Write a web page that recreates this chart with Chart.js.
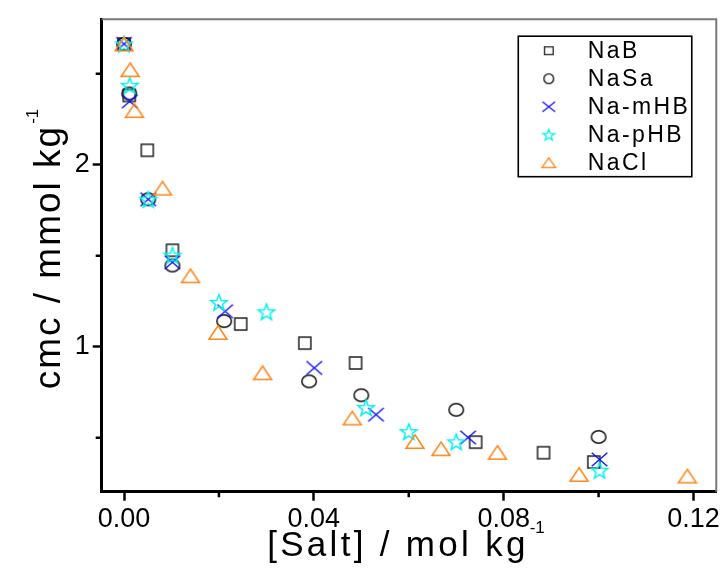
<!DOCTYPE html>
<html>
<head>
<meta charset="utf-8">
<script src="https://cdn.jsdelivr.net/npm/chart.js@4.4.1/dist/chart.umd.min.js"></script>
<style>
  html, body { margin: 0; padding: 0; background: #ffffff; }
  #wrap { width: 723px; height: 572px; }
</style>
</head>
<body>
<div id="wrap"><canvas id="cmcChart" width="723" height="572"></canvas></div>
<script>
// cmc of the surfactant versus added salt concentration
const seriesNames = ['NaB', 'NaSa', 'Na-mHB', 'Na-pHB', 'NaCl'];

const saltNaB   = [0, 0.0011, 0.0049, 0.0102, 0.0246, 0.0381, 0.0488, 0.0741, 0.0884, 0.0990];
const cmcNaB    = [2.663, 2.38, 2.079, 1.53, 1.125, 1.020, 0.911, 0.476, 0.418, 0.367];

const saltNaSa  = [0, 0.0011, 0.0051, 0.0102, 0.0211, 0.0390, 0.0500, 0.0700, 0.1000];
const cmcNaSa   = [2.663, 2.391, 1.810, 1.446, 1.141, 0.810, 0.734, 0.654, 0.505];

const saltMHB   = [0, 0.0012, 0.0051, 0.0102, 0.0213, 0.0401, 0.0531, 0.0725, 0.1002];
const cmcMHB    = [2.663, 2.348, 1.810, 1.464, 1.195, 0.884, 0.627, 0.502, 0.381];

const saltPHB   = [0, 0.0012, 0.0051, 0.0102, 0.0200, 0.0300, 0.0510, 0.0600, 0.0700, 0.1002];
const cmcPHB    = [2.663, 2.436, 1.810, 1.503, 1.244, 1.192, 0.666, 0.534, 0.478, 0.322];

const saltNaCl  = [0, 0.0013, 0.0022, 0.0081, 0.0140, 0.0198, 0.0292, 0.0481, 0.0613, 0.0668, 0.0787, 0.0959, 0.1187];
const cmcNaCl   = [2.663, 2.522, 2.297, 1.871, 1.390, 1.079, 0.857, 0.609, 0.480, 0.440, 0.420, 0.299, 0.290];

const xMajorTicks = [0, 0.04, 0.08, 0.12];
const xMinorTicks = [0.02, 0.06, 0.10];
const yMajorTicks = [1, 2];
const yMinorTicks = [0.5, 1.5, 2.5];

const xTitle = '[Salt] / mol kg';
const yTitle = 'cmc / mmol kg';
const unitExp = '-1';

const FONT = "'Liberation Sans', Arial, Helvetica, sans-serif";

// open marker glyphs drawn on small canvases
function makeMarker(kind, w, h, color, lw) {
  const pad = Math.ceil(lw) + 1;
  const cv = document.createElement('canvas');
  cv.width = Math.round(w + 2 * pad);
  cv.height = Math.round(h + 2 * pad);
  const g = cv.getContext('2d');
  g.strokeStyle = color;
  g.lineWidth = lw;
  g.lineJoin = 'miter';
  const cx = cv.width / 2, cy = cv.height / 2;
  const hw = w / 2 - lw / 2, hh = h / 2 - lw / 2;
  g.beginPath();
  if (kind === 'square') {
    g.rect(cx - hw, cy - hh, 2 * hw, 2 * hh);
  } else if (kind === 'circle') {
    g.ellipse(cx, cy, hw, hh, 0, 0, Math.PI * 2);
  } else if (kind === 'cross') {
    g.moveTo(cx - hw, cy - hh); g.lineTo(cx + hw, cy + hh);
    g.moveTo(cx + hw, cy - hh); g.lineTo(cx - hw, cy + hh);
  } else if (kind === 'star') {
    const sx = hw / 0.951, sy = hh / 0.9045, off = 0.0955 * sy;
    for (let i = 0; i < 10; i++) {
      const a = -Math.PI / 2 + i * Math.PI / 5;
      const r = i % 2 === 0 ? 1 : 0.42;
      const px = cx + Math.cos(a) * r * sx;
      const py = cy + off + Math.sin(a) * r * sy;
      if (i === 0) g.moveTo(px, py); else g.lineTo(px, py);
    }
    g.closePath();
  } else if (kind === 'triangle') {
    g.moveTo(cx, cy - hh);
    g.lineTo(cx + hw, cy + hh);
    g.lineTo(cx - hw, cy + hh);
    g.closePath();
  }
  g.stroke();
  return cv;
}

const styles = [
  { kind: 'square',   color: '#222222', w: 13.5, h: 13.5, lw: 1.5, lgW: 10, lgH: 9 },
  { kind: 'circle',   color: '#111111', w: 16,   h: 14,   lw: 1.5, lgW: 11, lgH: 11 },
  { kind: 'cross',    color: '#1212f0', w: 17,   h: 15,   lw: 1.4, lgW: 14, lgH: 11.5 },
  { kind: 'star',     color: '#00f0f0', w: 18,   h: 17,   lw: 1.5, lgW: 13, lgH: 12 },
  { kind: 'triangle', color: '#ff8416', w: 19.5, h: 15,   lw: 1.5, lgW: 15, lgH: 11 }
];

const xs = [saltNaB, saltNaSa, saltMHB, saltPHB, saltNaCl];
const ys = [cmcNaB, cmcNaSa, cmcMHB, cmcPHB, cmcNaCl];

const datasets = seriesNames.map((name, i) => ({
  label: name,
  data: xs[i].map((x, j) => ({ x: x, y: ys[i][j] })),
  pointStyle: makeMarker(styles[i].kind, styles[i].w, styles[i].h, styles[i].color, styles[i].lw),
  legendMarker: makeMarker(styles[i].kind, styles[i].lgW, styles[i].lgH, styles[i].color, 1.3),
  showLine: false,
  order: seriesNames.length - i
}));

// grey frame on the top and right, minor ticks on both axes
const framePlugin = {
  id: 'frame',
  beforeDatasetsDraw(chart) {
    const { ctx, chartArea: a } = chart;
    ctx.save();
    ctx.strokeStyle = '#7a7a7a';
    ctx.lineWidth = 2;
    ctx.beginPath();
    ctx.moveTo(a.left, a.top);
    ctx.lineTo(a.right, a.top);
    ctx.lineTo(a.right, a.bottom);
    ctx.stroke();

    ctx.strokeStyle = '#000';
    ctx.lineWidth = 2.5;
    const sx = chart.scales.x, sy = chart.scales.y;
    ctx.beginPath();
    xMinorTicks.forEach(v => {
      const px = sx.getPixelForValue(v);
      ctx.moveTo(px, a.bottom);
      ctx.lineTo(px, a.bottom + 5.5);
    });
    yMinorTicks.forEach(v => {
      const py = sy.getPixelForValue(v);
      ctx.moveTo(a.left, py);
      ctx.lineTo(a.left - 6, py);
    });
    ctx.stroke();
    ctx.restore();
  }
};

// axis titles with a raised unit exponent
function drawWithExp(ctx, text, exp, font, expFont, spacing, rise) {
  ctx.font = font;
  ctx.letterSpacing = spacing + 'px';
  const w1 = ctx.measureText(text).width;
  ctx.font = expFont;
  ctx.letterSpacing = '0px';
  const w2 = ctx.measureText(exp).width;
  const total = w1 + 1 + w2;
  ctx.font = font;
  ctx.letterSpacing = spacing + 'px';
  ctx.textAlign = 'left';
  ctx.textBaseline = 'alphabetic';
  ctx.fillText(text, -total / 2, 0);
  ctx.font = expFont;
  ctx.letterSpacing = '0px';
  ctx.fillText(exp, -total / 2 + w1 + 1, -rise);
}

const titlePlugin = {
  id: 'axisTitles',
  afterDraw(chart) {
    const { ctx } = chart;
    ctx.save();
    ctx.fillStyle = '#000';
    ctx.save();
    ctx.translate(406, 556);
    drawWithExp(ctx, xTitle, unitExp, '35px ' + FONT, '17px ' + FONT, 3.3, 23);
    ctx.restore();
    ctx.save();
    ctx.translate(60, 249);
    ctx.rotate(-Math.PI / 2);
    drawWithExp(ctx, yTitle, unitExp, '37px ' + FONT, '17px ' + FONT, 2, 22);
    ctx.restore();
    ctx.restore();
  }
};

// boxed legend in the upper right of the plot
const legendPlugin = {
  id: 'boxLegend',
  afterDraw(chart) {
    const { ctx, chartArea: a } = chart;
    const boxL = a.right - 198, boxT = a.top + 17, boxW = 173.5, boxH = 140.5;
    ctx.save();
    ctx.strokeStyle = '#000';
    ctx.lineWidth = 1.6;
    ctx.strokeRect(boxL, boxT, boxW, boxH);
    ctx.font = '23px ' + FONT;
    ctx.letterSpacing = '2.4px';
    ctx.fillStyle = '#000';
    ctx.textBaseline = 'middle';
    ctx.textAlign = 'left';
    chart.data.datasets.forEach((ds, i) => {
      const cy = boxT + 14.5 + i * 28;
      const m = ds.legendMarker;
      ctx.drawImage(m, boxL + 30.5 - m.width / 2, cy - m.height / 2);
      ctx.fillText(ds.label, boxL + 69.5, cy + 1);
    });
    ctx.restore();
  }
};

const tickFont = { family: FONT, size: 27 };

new Chart(document.getElementById('cmcChart'), {
  type: 'scatter',
  data: { datasets: datasets },
  options: {
    responsive: false,
    animation: false,
    layout: { autoPadding: false, padding: { top: 15, right: 6.3, left: 0, bottom: 0 } },
    plugins: { legend: { display: false }, tooltip: { enabled: false } },
    scales: {
      x: {
        type: 'linear',
        min: -0.0047,
        max: 0.1248,
        afterBuildTicks: s => { s.ticks = xMajorTicks.map(v => ({ value: v })); },
        afterFit: s => { s.height = 80.3; },
        ticks: { callback: v => v.toFixed(2), font: tickFont, color: '#000', padding: 3, maxRotation: 0, autoSkip: false },
        grid: { drawOnChartArea: false, drawTicks: true, tickLength: 9, tickWidth: 2.5, tickColor: '#000' },
        border: { display: true, width: 3, color: '#000' }
      },
      y: {
        type: 'linear',
        min: 0.204,
        max: 2.799,
        afterBuildTicks: s => { s.ticks = yMajorTicks.map(v => ({ value: v })); },
        afterFit: s => { s.width = 101.7; },
        ticks: { callback: v => String(v), font: tickFont, color: '#000', padding: 3, autoSkip: false },
        grid: { drawOnChartArea: false, drawTicks: true, tickLength: 9, tickWidth: 2.5, tickColor: '#000' },
        border: { display: true, width: 3, color: '#000' }
      }
    }
  },
  plugins: [framePlugin, titlePlugin, legendPlugin]
});
</script>
</body>
</html>
